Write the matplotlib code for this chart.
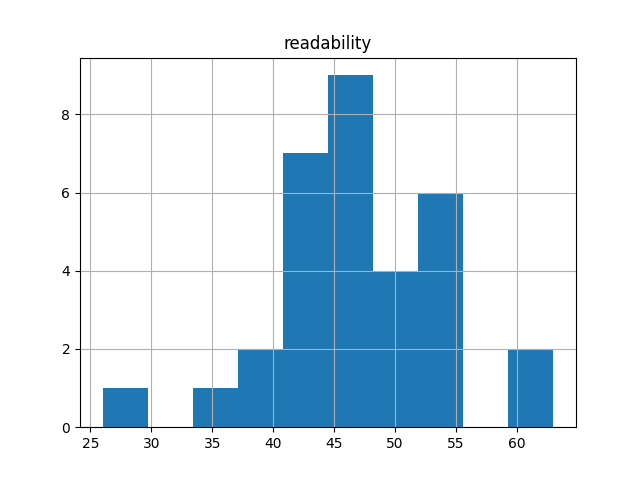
import numpy as np
import matplotlib
matplotlib.use("Agg")
import matplotlib.pyplot as plt

# histogram of readability scores
data_min = 26.0
data_max = 63.0
counts = [1, 0, 1, 2, 7, 9, 4, 6, 0, 2]

edges = np.linspace(data_min, data_max, len(counts) + 1)
centers = (edges[:-1] + edges[1:]) / 2

fig, ax = plt.subplots(figsize=(6.4, 4.8), dpi=100)
ax.hist(centers, bins=edges, weights=counts)
ax.grid(True)
ax.set_title("readability")

fig.savefig("out.png")
